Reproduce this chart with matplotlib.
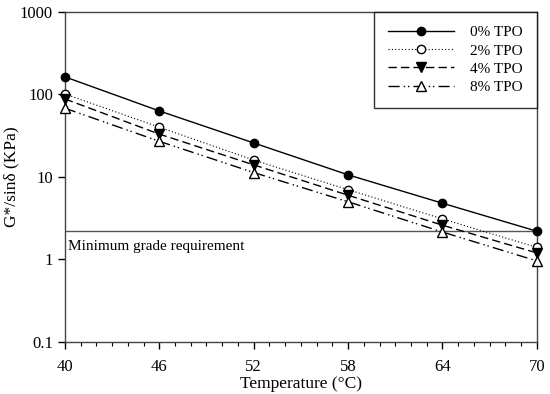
import matplotlib
matplotlib.use('Agg')
import matplotlib.pyplot as plt
from matplotlib.ticker import FixedLocator, MultipleLocator, NullLocator

plt.rcParams['font.family'] = ['Liberation Serif', 'DejaVu Serif']

# Data
temps = [40, 46, 52, 58, 64, 70]
tpo_0 = [163, 63, 25.8, 10.6, 4.8, 2.2]
tpo_2 = [101, 40, 16, 7.0, 3.1, 1.4]
tpo_4 = [88, 33, 14, 6.0, 2.6, 1.2]
tpo_8 = [68, 27, 11.3, 5.0, 2.15, 0.96]
min_grade = 2.2
x_ticks = [40, 46, 52, 58, 64, 70]
y_ticks = [0.1, 1, 10, 100, 1000]
y_labels = ['0.1', '1', '10', '100', '1000']

fig = plt.figure(figsize=(5.5, 3.94), dpi=100)
ax = fig.add_axes([0.118, 0.132, 0.858, 0.838])

ax.plot(temps, tpo_0, color='black', lw=1, ls='-', marker='o', ms=6,
        mfc='black', mec='black', label='0% TPO', clip_on=False, zorder=5)
ax.plot(temps, tpo_2, color='black', lw=0.8, ls=(0, (1, 2)), marker='o', ms=6,
        mfc='white', mec='black', label='2% TPO', clip_on=False, zorder=5)
ax.plot(temps, tpo_4, color='black', lw=1, ls=(0, (6, 3)), marker='v', ms=6.5,
        mfc='black', mec='black', label='4% TPO', clip_on=False, zorder=5)
ax.plot(temps, tpo_8, color='black', lw=1, ls=(0, (8, 3, 1, 2, 1, 3)), marker='^', ms=6.5,
        mfc='white', mec='black', label='8% TPO', clip_on=False, zorder=5)

ax.axhline(min_grade, color='#555555', lw=1)
ax.text(40.2, 1.42, 'Minimum grade requirement', fontsize=11, va='center', ha='left')

ax.set_yscale('log')
ax.set_ylim(0.1, 1000)
ax.set_xlim(40, 70)
ax.yaxis.set_major_locator(FixedLocator(y_ticks))
ax.set_yticklabels(y_labels)
ax.yaxis.set_minor_locator(NullLocator())
ax.xaxis.set_major_locator(FixedLocator(x_ticks))
ax.xaxis.set_minor_locator(MultipleLocator(1))
ax.tick_params(axis='both', which='major', direction='out', length=5, labelsize=12, width=1)
ax.tick_params(axis='x', which='major', pad=7)
ax.tick_params(axis='x', which='minor', direction='out', length=3, width=0.8)

for s in ax.spines.values():
    s.set_color('#444444')
    s.set_linewidth(1)

ax.set_xlabel('Temperature (°C)', fontsize=12.5, labelpad=1)
ax.set_ylabel('G*/sinδ (KPa)', fontsize=12.5)
ax.yaxis.set_label_coords(-0.097, 0.5)

leg = ax.legend(loc='upper right', frameon=True, fancybox=False, fontsize=11,
                handlelength=4.3, borderpad=0.9, labelspacing=0.3, handletextpad=1.1,
                borderaxespad=0.0)
leg.get_frame().set_edgecolor('black')
leg.get_frame().set_linewidth(1)

fig.savefig('out.png', dpi=100)
